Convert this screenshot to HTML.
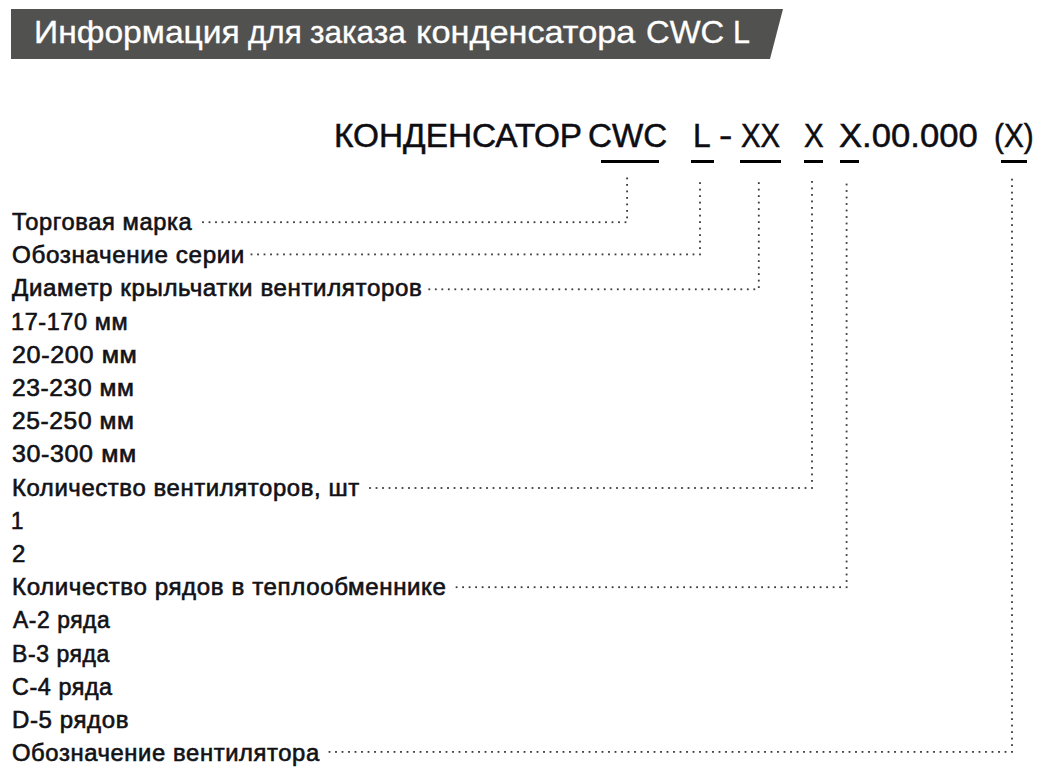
<!DOCTYPE html>
<html><head><meta charset="utf-8"><style>
html,body{margin:0;padding:0;background:#fff;width:1043px;height:776px;overflow:hidden;position:relative}
body{font-family:"Liberation Sans",sans-serif}
.banner{position:absolute;left:0;top:0;width:1043px;height:70px}
.title{position:absolute;top:15.16px;font-size:32.2px;line-height:1.117;color:#fff;white-space:nowrap;transform-origin:0 0;-webkit-text-stroke:0.35px #fff}
.lb{position:absolute;letter-spacing:0.6px;font-size:23.9px;line-height:1.117;color:#111116;white-space:nowrap;font-weight:400;-webkit-text-stroke:0.62px #111116;transform-origin:0 0}
.cd{position:absolute;font-size:33.0px;line-height:1.117;color:#0d0d12;white-space:nowrap;font-weight:400;-webkit-text-stroke:0.5px #0d0d12;transform-origin:0 0}
.ul{position:absolute;top:160px;height:3px;background:#000}
.dots{position:absolute;left:0;top:0}
</style></head><body>
<svg class="banner" viewBox="0 0 1043 70"><polygon points="11,9 783,9 770,59 11,59" fill="#515150"/></svg>
<div class="title" style="left:33.52px;transform:scaleX(1.0444)">Информация</div>
<div class="title" style="left:247.66px;transform:scaleX(0.9772)">для</div>
<div class="title" style="left:310.32px;transform:scaleX(0.9801)">заказа</div>
<div class="title" style="left:416.48px;transform:scaleX(1.0650)">конденсатора</div>
<div class="title" style="left:646.42px;transform:scaleX(1.0166)">CWC</div>
<div class="title" style="left:732.66px;transform:scaleX(0.9487)">L</div>
<div class="cd" style="left:333.62px;top:117.63px;transform:scaleX(1.0108)">КОНДЕНСАТОР</div>
<div class="cd" style="left:588.37px;top:117.63px;transform:scaleX(1.0042)">CWC</div>
<div class="cd" style="left:692.73px;top:117.63px;transform:scaleX(0.9630)">L</div>
<div class="cd" style="left:718.72px;top:117.63px;transform:scaleX(1.2139)">-</div>
<div class="cd" style="left:740.66px;top:117.63px;transform:scaleX(0.8887)">XX</div>
<div class="cd" style="left:803.86px;top:117.63px;transform:scaleX(0.8918)">X</div>
<div class="cd" style="left:838.98px;top:117.63px;transform:scaleX(1.0498)">X.00.000</div>
<div class="cd" style="left:994.18px;top:117.63px;transform:scaleX(0.9008)">(X)</div>
<div class="ul" style="left:600.7px;width:58.3px"></div>
<div class="ul" style="left:691px;width:23.0px"></div>
<div class="ul" style="left:740px;width:41.0px"></div>
<div class="ul" style="left:804px;width:19.0px"></div>
<div class="ul" style="left:840px;width:19.0px"></div>
<div class="ul" style="left:1001px;width:26.0px"></div>
<svg class="dots" width="1043" height="776" viewBox="0 0 1043 776"><g fill="#3a3a3a"><rect x="626.20" y="177.50" width="1.8" height="1.8"/><rect x="626.20" y="184.00" width="1.8" height="1.8"/><rect x="626.20" y="190.50" width="1.8" height="1.8"/><rect x="626.20" y="197.00" width="1.8" height="1.8"/><rect x="626.20" y="203.50" width="1.8" height="1.8"/><rect x="626.20" y="210.00" width="1.8" height="1.8"/><rect x="626.20" y="216.50" width="1.8" height="1.8"/><rect x="624.60" y="221.30" width="1.8" height="1.8"/><rect x="618.10" y="221.30" width="1.8" height="1.8"/><rect x="611.60" y="221.30" width="1.8" height="1.8"/><rect x="605.10" y="221.30" width="1.8" height="1.8"/><rect x="598.60" y="221.30" width="1.8" height="1.8"/><rect x="592.10" y="221.30" width="1.8" height="1.8"/><rect x="585.60" y="221.30" width="1.8" height="1.8"/><rect x="579.10" y="221.30" width="1.8" height="1.8"/><rect x="572.60" y="221.30" width="1.8" height="1.8"/><rect x="566.10" y="221.30" width="1.8" height="1.8"/><rect x="559.60" y="221.30" width="1.8" height="1.8"/><rect x="553.10" y="221.30" width="1.8" height="1.8"/><rect x="546.60" y="221.30" width="1.8" height="1.8"/><rect x="540.10" y="221.30" width="1.8" height="1.8"/><rect x="533.60" y="221.30" width="1.8" height="1.8"/><rect x="527.10" y="221.30" width="1.8" height="1.8"/><rect x="520.60" y="221.30" width="1.8" height="1.8"/><rect x="514.10" y="221.30" width="1.8" height="1.8"/><rect x="507.60" y="221.30" width="1.8" height="1.8"/><rect x="501.10" y="221.30" width="1.8" height="1.8"/><rect x="494.60" y="221.30" width="1.8" height="1.8"/><rect x="488.10" y="221.30" width="1.8" height="1.8"/><rect x="481.60" y="221.30" width="1.8" height="1.8"/><rect x="475.10" y="221.30" width="1.8" height="1.8"/><rect x="468.60" y="221.30" width="1.8" height="1.8"/><rect x="462.10" y="221.30" width="1.8" height="1.8"/><rect x="455.60" y="221.30" width="1.8" height="1.8"/><rect x="449.10" y="221.30" width="1.8" height="1.8"/><rect x="442.60" y="221.30" width="1.8" height="1.8"/><rect x="436.10" y="221.30" width="1.8" height="1.8"/><rect x="429.60" y="221.30" width="1.8" height="1.8"/><rect x="423.10" y="221.30" width="1.8" height="1.8"/><rect x="416.60" y="221.30" width="1.8" height="1.8"/><rect x="410.10" y="221.30" width="1.8" height="1.8"/><rect x="403.60" y="221.30" width="1.8" height="1.8"/><rect x="397.10" y="221.30" width="1.8" height="1.8"/><rect x="390.60" y="221.30" width="1.8" height="1.8"/><rect x="384.10" y="221.30" width="1.8" height="1.8"/><rect x="377.60" y="221.30" width="1.8" height="1.8"/><rect x="371.10" y="221.30" width="1.8" height="1.8"/><rect x="364.60" y="221.30" width="1.8" height="1.8"/><rect x="358.10" y="221.30" width="1.8" height="1.8"/><rect x="351.60" y="221.30" width="1.8" height="1.8"/><rect x="345.10" y="221.30" width="1.8" height="1.8"/><rect x="338.60" y="221.30" width="1.8" height="1.8"/><rect x="332.10" y="221.30" width="1.8" height="1.8"/><rect x="325.60" y="221.30" width="1.8" height="1.8"/><rect x="319.10" y="221.30" width="1.8" height="1.8"/><rect x="312.60" y="221.30" width="1.8" height="1.8"/><rect x="306.10" y="221.30" width="1.8" height="1.8"/><rect x="299.60" y="221.30" width="1.8" height="1.8"/><rect x="293.10" y="221.30" width="1.8" height="1.8"/><rect x="286.60" y="221.30" width="1.8" height="1.8"/><rect x="280.10" y="221.30" width="1.8" height="1.8"/><rect x="273.60" y="221.30" width="1.8" height="1.8"/><rect x="267.10" y="221.30" width="1.8" height="1.8"/><rect x="260.60" y="221.30" width="1.8" height="1.8"/><rect x="254.10" y="221.30" width="1.8" height="1.8"/><rect x="247.60" y="221.30" width="1.8" height="1.8"/><rect x="241.10" y="221.30" width="1.8" height="1.8"/><rect x="234.60" y="221.30" width="1.8" height="1.8"/><rect x="228.10" y="221.30" width="1.8" height="1.8"/><rect x="221.60" y="221.30" width="1.8" height="1.8"/><rect x="215.10" y="221.30" width="1.8" height="1.8"/><rect x="208.60" y="221.30" width="1.8" height="1.8"/><rect x="202.10" y="221.30" width="1.8" height="1.8"/><rect x="699.10" y="182.20" width="1.8" height="1.8"/><rect x="699.10" y="188.70" width="1.8" height="1.8"/><rect x="699.10" y="195.20" width="1.8" height="1.8"/><rect x="699.10" y="201.70" width="1.8" height="1.8"/><rect x="699.10" y="208.20" width="1.8" height="1.8"/><rect x="699.10" y="214.70" width="1.8" height="1.8"/><rect x="699.10" y="221.20" width="1.8" height="1.8"/><rect x="699.10" y="227.70" width="1.8" height="1.8"/><rect x="699.10" y="234.20" width="1.8" height="1.8"/><rect x="699.10" y="240.70" width="1.8" height="1.8"/><rect x="699.10" y="247.20" width="1.8" height="1.8"/><rect x="699.10" y="253.50" width="1.8" height="1.8"/><rect x="692.60" y="253.50" width="1.8" height="1.8"/><rect x="686.10" y="253.50" width="1.8" height="1.8"/><rect x="679.60" y="253.50" width="1.8" height="1.8"/><rect x="673.10" y="253.50" width="1.8" height="1.8"/><rect x="666.60" y="253.50" width="1.8" height="1.8"/><rect x="660.10" y="253.50" width="1.8" height="1.8"/><rect x="653.60" y="253.50" width="1.8" height="1.8"/><rect x="647.10" y="253.50" width="1.8" height="1.8"/><rect x="640.60" y="253.50" width="1.8" height="1.8"/><rect x="634.10" y="253.50" width="1.8" height="1.8"/><rect x="627.60" y="253.50" width="1.8" height="1.8"/><rect x="621.10" y="253.50" width="1.8" height="1.8"/><rect x="614.60" y="253.50" width="1.8" height="1.8"/><rect x="608.10" y="253.50" width="1.8" height="1.8"/><rect x="601.60" y="253.50" width="1.8" height="1.8"/><rect x="595.10" y="253.50" width="1.8" height="1.8"/><rect x="588.60" y="253.50" width="1.8" height="1.8"/><rect x="582.10" y="253.50" width="1.8" height="1.8"/><rect x="575.60" y="253.50" width="1.8" height="1.8"/><rect x="569.10" y="253.50" width="1.8" height="1.8"/><rect x="562.60" y="253.50" width="1.8" height="1.8"/><rect x="556.10" y="253.50" width="1.8" height="1.8"/><rect x="549.60" y="253.50" width="1.8" height="1.8"/><rect x="543.10" y="253.50" width="1.8" height="1.8"/><rect x="536.60" y="253.50" width="1.8" height="1.8"/><rect x="530.10" y="253.50" width="1.8" height="1.8"/><rect x="523.60" y="253.50" width="1.8" height="1.8"/><rect x="517.10" y="253.50" width="1.8" height="1.8"/><rect x="510.60" y="253.50" width="1.8" height="1.8"/><rect x="504.10" y="253.50" width="1.8" height="1.8"/><rect x="497.60" y="253.50" width="1.8" height="1.8"/><rect x="491.10" y="253.50" width="1.8" height="1.8"/><rect x="484.60" y="253.50" width="1.8" height="1.8"/><rect x="478.10" y="253.50" width="1.8" height="1.8"/><rect x="471.60" y="253.50" width="1.8" height="1.8"/><rect x="465.10" y="253.50" width="1.8" height="1.8"/><rect x="458.60" y="253.50" width="1.8" height="1.8"/><rect x="452.10" y="253.50" width="1.8" height="1.8"/><rect x="445.60" y="253.50" width="1.8" height="1.8"/><rect x="439.10" y="253.50" width="1.8" height="1.8"/><rect x="432.60" y="253.50" width="1.8" height="1.8"/><rect x="426.10" y="253.50" width="1.8" height="1.8"/><rect x="419.60" y="253.50" width="1.8" height="1.8"/><rect x="413.10" y="253.50" width="1.8" height="1.8"/><rect x="406.60" y="253.50" width="1.8" height="1.8"/><rect x="400.10" y="253.50" width="1.8" height="1.8"/><rect x="393.60" y="253.50" width="1.8" height="1.8"/><rect x="387.10" y="253.50" width="1.8" height="1.8"/><rect x="380.60" y="253.50" width="1.8" height="1.8"/><rect x="374.10" y="253.50" width="1.8" height="1.8"/><rect x="367.60" y="253.50" width="1.8" height="1.8"/><rect x="361.10" y="253.50" width="1.8" height="1.8"/><rect x="354.60" y="253.50" width="1.8" height="1.8"/><rect x="348.10" y="253.50" width="1.8" height="1.8"/><rect x="341.60" y="253.50" width="1.8" height="1.8"/><rect x="335.10" y="253.50" width="1.8" height="1.8"/><rect x="328.60" y="253.50" width="1.8" height="1.8"/><rect x="322.10" y="253.50" width="1.8" height="1.8"/><rect x="315.60" y="253.50" width="1.8" height="1.8"/><rect x="309.10" y="253.50" width="1.8" height="1.8"/><rect x="302.60" y="253.50" width="1.8" height="1.8"/><rect x="296.10" y="253.50" width="1.8" height="1.8"/><rect x="289.60" y="253.50" width="1.8" height="1.8"/><rect x="283.10" y="253.50" width="1.8" height="1.8"/><rect x="276.60" y="253.50" width="1.8" height="1.8"/><rect x="270.10" y="253.50" width="1.8" height="1.8"/><rect x="263.60" y="253.50" width="1.8" height="1.8"/><rect x="257.10" y="253.50" width="1.8" height="1.8"/><rect x="250.60" y="253.50" width="1.8" height="1.8"/><rect x="757.90" y="182.20" width="1.8" height="1.8"/><rect x="757.90" y="188.70" width="1.8" height="1.8"/><rect x="757.90" y="195.20" width="1.8" height="1.8"/><rect x="757.90" y="201.70" width="1.8" height="1.8"/><rect x="757.90" y="208.20" width="1.8" height="1.8"/><rect x="757.90" y="214.70" width="1.8" height="1.8"/><rect x="757.90" y="221.20" width="1.8" height="1.8"/><rect x="757.90" y="227.70" width="1.8" height="1.8"/><rect x="757.90" y="234.20" width="1.8" height="1.8"/><rect x="757.90" y="240.70" width="1.8" height="1.8"/><rect x="757.90" y="247.20" width="1.8" height="1.8"/><rect x="757.90" y="253.70" width="1.8" height="1.8"/><rect x="757.90" y="260.20" width="1.8" height="1.8"/><rect x="757.90" y="266.70" width="1.8" height="1.8"/><rect x="757.90" y="273.20" width="1.8" height="1.8"/><rect x="757.90" y="279.70" width="1.8" height="1.8"/><rect x="757.90" y="286.20" width="1.8" height="1.8"/><rect x="753.40" y="288.40" width="1.8" height="1.8"/><rect x="746.90" y="288.40" width="1.8" height="1.8"/><rect x="740.40" y="288.40" width="1.8" height="1.8"/><rect x="733.90" y="288.40" width="1.8" height="1.8"/><rect x="727.40" y="288.40" width="1.8" height="1.8"/><rect x="720.90" y="288.40" width="1.8" height="1.8"/><rect x="714.40" y="288.40" width="1.8" height="1.8"/><rect x="707.90" y="288.40" width="1.8" height="1.8"/><rect x="701.40" y="288.40" width="1.8" height="1.8"/><rect x="694.90" y="288.40" width="1.8" height="1.8"/><rect x="688.40" y="288.40" width="1.8" height="1.8"/><rect x="681.90" y="288.40" width="1.8" height="1.8"/><rect x="675.40" y="288.40" width="1.8" height="1.8"/><rect x="668.90" y="288.40" width="1.8" height="1.8"/><rect x="662.40" y="288.40" width="1.8" height="1.8"/><rect x="655.90" y="288.40" width="1.8" height="1.8"/><rect x="649.40" y="288.40" width="1.8" height="1.8"/><rect x="642.90" y="288.40" width="1.8" height="1.8"/><rect x="636.40" y="288.40" width="1.8" height="1.8"/><rect x="629.90" y="288.40" width="1.8" height="1.8"/><rect x="623.40" y="288.40" width="1.8" height="1.8"/><rect x="616.90" y="288.40" width="1.8" height="1.8"/><rect x="610.40" y="288.40" width="1.8" height="1.8"/><rect x="603.90" y="288.40" width="1.8" height="1.8"/><rect x="597.40" y="288.40" width="1.8" height="1.8"/><rect x="590.90" y="288.40" width="1.8" height="1.8"/><rect x="584.40" y="288.40" width="1.8" height="1.8"/><rect x="577.90" y="288.40" width="1.8" height="1.8"/><rect x="571.40" y="288.40" width="1.8" height="1.8"/><rect x="564.90" y="288.40" width="1.8" height="1.8"/><rect x="558.40" y="288.40" width="1.8" height="1.8"/><rect x="551.90" y="288.40" width="1.8" height="1.8"/><rect x="545.40" y="288.40" width="1.8" height="1.8"/><rect x="538.90" y="288.40" width="1.8" height="1.8"/><rect x="532.40" y="288.40" width="1.8" height="1.8"/><rect x="525.90" y="288.40" width="1.8" height="1.8"/><rect x="519.40" y="288.40" width="1.8" height="1.8"/><rect x="512.90" y="288.40" width="1.8" height="1.8"/><rect x="506.40" y="288.40" width="1.8" height="1.8"/><rect x="499.90" y="288.40" width="1.8" height="1.8"/><rect x="493.40" y="288.40" width="1.8" height="1.8"/><rect x="486.90" y="288.40" width="1.8" height="1.8"/><rect x="480.40" y="288.40" width="1.8" height="1.8"/><rect x="473.90" y="288.40" width="1.8" height="1.8"/><rect x="467.40" y="288.40" width="1.8" height="1.8"/><rect x="460.90" y="288.40" width="1.8" height="1.8"/><rect x="454.40" y="288.40" width="1.8" height="1.8"/><rect x="447.90" y="288.40" width="1.8" height="1.8"/><rect x="441.40" y="288.40" width="1.8" height="1.8"/><rect x="434.90" y="288.40" width="1.8" height="1.8"/><rect x="428.40" y="288.40" width="1.8" height="1.8"/><rect x="811.10" y="181.00" width="1.8" height="1.8"/><rect x="811.10" y="187.50" width="1.8" height="1.8"/><rect x="811.10" y="194.00" width="1.8" height="1.8"/><rect x="811.10" y="200.50" width="1.8" height="1.8"/><rect x="811.10" y="207.00" width="1.8" height="1.8"/><rect x="811.10" y="213.50" width="1.8" height="1.8"/><rect x="811.10" y="220.00" width="1.8" height="1.8"/><rect x="811.10" y="226.50" width="1.8" height="1.8"/><rect x="811.10" y="233.00" width="1.8" height="1.8"/><rect x="811.10" y="239.50" width="1.8" height="1.8"/><rect x="811.10" y="246.00" width="1.8" height="1.8"/><rect x="811.10" y="252.50" width="1.8" height="1.8"/><rect x="811.10" y="259.00" width="1.8" height="1.8"/><rect x="811.10" y="265.50" width="1.8" height="1.8"/><rect x="811.10" y="272.00" width="1.8" height="1.8"/><rect x="811.10" y="278.50" width="1.8" height="1.8"/><rect x="811.10" y="285.00" width="1.8" height="1.8"/><rect x="811.10" y="291.50" width="1.8" height="1.8"/><rect x="811.10" y="298.00" width="1.8" height="1.8"/><rect x="811.10" y="304.50" width="1.8" height="1.8"/><rect x="811.10" y="311.00" width="1.8" height="1.8"/><rect x="811.10" y="317.50" width="1.8" height="1.8"/><rect x="811.10" y="324.00" width="1.8" height="1.8"/><rect x="811.10" y="330.50" width="1.8" height="1.8"/><rect x="811.10" y="337.00" width="1.8" height="1.8"/><rect x="811.10" y="343.50" width="1.8" height="1.8"/><rect x="811.10" y="350.00" width="1.8" height="1.8"/><rect x="811.10" y="356.50" width="1.8" height="1.8"/><rect x="811.10" y="363.00" width="1.8" height="1.8"/><rect x="811.10" y="369.50" width="1.8" height="1.8"/><rect x="811.10" y="376.00" width="1.8" height="1.8"/><rect x="811.10" y="382.50" width="1.8" height="1.8"/><rect x="811.10" y="389.00" width="1.8" height="1.8"/><rect x="811.10" y="395.50" width="1.8" height="1.8"/><rect x="811.10" y="402.00" width="1.8" height="1.8"/><rect x="811.10" y="408.50" width="1.8" height="1.8"/><rect x="811.10" y="415.00" width="1.8" height="1.8"/><rect x="811.10" y="421.50" width="1.8" height="1.8"/><rect x="811.10" y="428.00" width="1.8" height="1.8"/><rect x="811.10" y="434.50" width="1.8" height="1.8"/><rect x="811.10" y="441.00" width="1.8" height="1.8"/><rect x="811.10" y="447.50" width="1.8" height="1.8"/><rect x="811.10" y="454.00" width="1.8" height="1.8"/><rect x="811.10" y="460.50" width="1.8" height="1.8"/><rect x="811.10" y="467.00" width="1.8" height="1.8"/><rect x="811.10" y="473.50" width="1.8" height="1.8"/><rect x="811.10" y="480.00" width="1.8" height="1.8"/><rect x="811.10" y="487.10" width="1.8" height="1.8"/><rect x="804.60" y="487.10" width="1.8" height="1.8"/><rect x="798.10" y="487.10" width="1.8" height="1.8"/><rect x="791.60" y="487.10" width="1.8" height="1.8"/><rect x="785.10" y="487.10" width="1.8" height="1.8"/><rect x="778.60" y="487.10" width="1.8" height="1.8"/><rect x="772.10" y="487.10" width="1.8" height="1.8"/><rect x="765.60" y="487.10" width="1.8" height="1.8"/><rect x="759.10" y="487.10" width="1.8" height="1.8"/><rect x="752.60" y="487.10" width="1.8" height="1.8"/><rect x="746.10" y="487.10" width="1.8" height="1.8"/><rect x="739.60" y="487.10" width="1.8" height="1.8"/><rect x="733.10" y="487.10" width="1.8" height="1.8"/><rect x="726.60" y="487.10" width="1.8" height="1.8"/><rect x="720.10" y="487.10" width="1.8" height="1.8"/><rect x="713.60" y="487.10" width="1.8" height="1.8"/><rect x="707.10" y="487.10" width="1.8" height="1.8"/><rect x="700.60" y="487.10" width="1.8" height="1.8"/><rect x="694.10" y="487.10" width="1.8" height="1.8"/><rect x="687.60" y="487.10" width="1.8" height="1.8"/><rect x="681.10" y="487.10" width="1.8" height="1.8"/><rect x="674.60" y="487.10" width="1.8" height="1.8"/><rect x="668.10" y="487.10" width="1.8" height="1.8"/><rect x="661.60" y="487.10" width="1.8" height="1.8"/><rect x="655.10" y="487.10" width="1.8" height="1.8"/><rect x="648.60" y="487.10" width="1.8" height="1.8"/><rect x="642.10" y="487.10" width="1.8" height="1.8"/><rect x="635.60" y="487.10" width="1.8" height="1.8"/><rect x="629.10" y="487.10" width="1.8" height="1.8"/><rect x="622.60" y="487.10" width="1.8" height="1.8"/><rect x="616.10" y="487.10" width="1.8" height="1.8"/><rect x="609.60" y="487.10" width="1.8" height="1.8"/><rect x="603.10" y="487.10" width="1.8" height="1.8"/><rect x="596.60" y="487.10" width="1.8" height="1.8"/><rect x="590.10" y="487.10" width="1.8" height="1.8"/><rect x="583.60" y="487.10" width="1.8" height="1.8"/><rect x="577.10" y="487.10" width="1.8" height="1.8"/><rect x="570.60" y="487.10" width="1.8" height="1.8"/><rect x="564.10" y="487.10" width="1.8" height="1.8"/><rect x="557.60" y="487.10" width="1.8" height="1.8"/><rect x="551.10" y="487.10" width="1.8" height="1.8"/><rect x="544.60" y="487.10" width="1.8" height="1.8"/><rect x="538.10" y="487.10" width="1.8" height="1.8"/><rect x="531.60" y="487.10" width="1.8" height="1.8"/><rect x="525.10" y="487.10" width="1.8" height="1.8"/><rect x="518.60" y="487.10" width="1.8" height="1.8"/><rect x="512.10" y="487.10" width="1.8" height="1.8"/><rect x="505.60" y="487.10" width="1.8" height="1.8"/><rect x="499.10" y="487.10" width="1.8" height="1.8"/><rect x="492.60" y="487.10" width="1.8" height="1.8"/><rect x="486.10" y="487.10" width="1.8" height="1.8"/><rect x="479.60" y="487.10" width="1.8" height="1.8"/><rect x="473.10" y="487.10" width="1.8" height="1.8"/><rect x="466.60" y="487.10" width="1.8" height="1.8"/><rect x="460.10" y="487.10" width="1.8" height="1.8"/><rect x="453.60" y="487.10" width="1.8" height="1.8"/><rect x="447.10" y="487.10" width="1.8" height="1.8"/><rect x="440.60" y="487.10" width="1.8" height="1.8"/><rect x="434.10" y="487.10" width="1.8" height="1.8"/><rect x="427.60" y="487.10" width="1.8" height="1.8"/><rect x="421.10" y="487.10" width="1.8" height="1.8"/><rect x="414.60" y="487.10" width="1.8" height="1.8"/><rect x="408.10" y="487.10" width="1.8" height="1.8"/><rect x="401.60" y="487.10" width="1.8" height="1.8"/><rect x="395.10" y="487.10" width="1.8" height="1.8"/><rect x="388.60" y="487.10" width="1.8" height="1.8"/><rect x="382.10" y="487.10" width="1.8" height="1.8"/><rect x="375.60" y="487.10" width="1.8" height="1.8"/><rect x="369.10" y="487.10" width="1.8" height="1.8"/><rect x="845.70" y="183.60" width="1.8" height="1.8"/><rect x="845.70" y="190.10" width="1.8" height="1.8"/><rect x="845.70" y="196.60" width="1.8" height="1.8"/><rect x="845.70" y="203.10" width="1.8" height="1.8"/><rect x="845.70" y="209.60" width="1.8" height="1.8"/><rect x="845.70" y="216.10" width="1.8" height="1.8"/><rect x="845.70" y="222.60" width="1.8" height="1.8"/><rect x="845.70" y="229.10" width="1.8" height="1.8"/><rect x="845.70" y="235.60" width="1.8" height="1.8"/><rect x="845.70" y="242.10" width="1.8" height="1.8"/><rect x="845.70" y="248.60" width="1.8" height="1.8"/><rect x="845.70" y="255.10" width="1.8" height="1.8"/><rect x="845.70" y="261.60" width="1.8" height="1.8"/><rect x="845.70" y="268.10" width="1.8" height="1.8"/><rect x="845.70" y="274.60" width="1.8" height="1.8"/><rect x="845.70" y="281.10" width="1.8" height="1.8"/><rect x="845.70" y="287.60" width="1.8" height="1.8"/><rect x="845.70" y="294.10" width="1.8" height="1.8"/><rect x="845.70" y="300.60" width="1.8" height="1.8"/><rect x="845.70" y="307.10" width="1.8" height="1.8"/><rect x="845.70" y="313.60" width="1.8" height="1.8"/><rect x="845.70" y="320.10" width="1.8" height="1.8"/><rect x="845.70" y="326.60" width="1.8" height="1.8"/><rect x="845.70" y="333.10" width="1.8" height="1.8"/><rect x="845.70" y="339.60" width="1.8" height="1.8"/><rect x="845.70" y="346.10" width="1.8" height="1.8"/><rect x="845.70" y="352.60" width="1.8" height="1.8"/><rect x="845.70" y="359.10" width="1.8" height="1.8"/><rect x="845.70" y="365.60" width="1.8" height="1.8"/><rect x="845.70" y="372.10" width="1.8" height="1.8"/><rect x="845.70" y="378.60" width="1.8" height="1.8"/><rect x="845.70" y="385.10" width="1.8" height="1.8"/><rect x="845.70" y="391.60" width="1.8" height="1.8"/><rect x="845.70" y="398.10" width="1.8" height="1.8"/><rect x="845.70" y="404.60" width="1.8" height="1.8"/><rect x="845.70" y="411.10" width="1.8" height="1.8"/><rect x="845.70" y="417.60" width="1.8" height="1.8"/><rect x="845.70" y="424.10" width="1.8" height="1.8"/><rect x="845.70" y="430.60" width="1.8" height="1.8"/><rect x="845.70" y="437.10" width="1.8" height="1.8"/><rect x="845.70" y="443.60" width="1.8" height="1.8"/><rect x="845.70" y="450.10" width="1.8" height="1.8"/><rect x="845.70" y="456.60" width="1.8" height="1.8"/><rect x="845.70" y="463.10" width="1.8" height="1.8"/><rect x="845.70" y="469.60" width="1.8" height="1.8"/><rect x="845.70" y="476.10" width="1.8" height="1.8"/><rect x="845.70" y="482.60" width="1.8" height="1.8"/><rect x="845.70" y="489.10" width="1.8" height="1.8"/><rect x="845.70" y="495.60" width="1.8" height="1.8"/><rect x="845.70" y="502.10" width="1.8" height="1.8"/><rect x="845.70" y="508.60" width="1.8" height="1.8"/><rect x="845.70" y="515.10" width="1.8" height="1.8"/><rect x="845.70" y="521.60" width="1.8" height="1.8"/><rect x="845.70" y="528.10" width="1.8" height="1.8"/><rect x="845.70" y="534.60" width="1.8" height="1.8"/><rect x="845.70" y="541.10" width="1.8" height="1.8"/><rect x="845.70" y="547.60" width="1.8" height="1.8"/><rect x="845.70" y="554.10" width="1.8" height="1.8"/><rect x="845.70" y="560.60" width="1.8" height="1.8"/><rect x="845.70" y="567.10" width="1.8" height="1.8"/><rect x="845.70" y="573.60" width="1.8" height="1.8"/><rect x="845.70" y="580.10" width="1.8" height="1.8"/><rect x="845.70" y="586.30" width="1.8" height="1.8"/><rect x="839.20" y="586.30" width="1.8" height="1.8"/><rect x="832.70" y="586.30" width="1.8" height="1.8"/><rect x="826.20" y="586.30" width="1.8" height="1.8"/><rect x="819.70" y="586.30" width="1.8" height="1.8"/><rect x="813.20" y="586.30" width="1.8" height="1.8"/><rect x="806.70" y="586.30" width="1.8" height="1.8"/><rect x="800.20" y="586.30" width="1.8" height="1.8"/><rect x="793.70" y="586.30" width="1.8" height="1.8"/><rect x="787.20" y="586.30" width="1.8" height="1.8"/><rect x="780.70" y="586.30" width="1.8" height="1.8"/><rect x="774.20" y="586.30" width="1.8" height="1.8"/><rect x="767.70" y="586.30" width="1.8" height="1.8"/><rect x="761.20" y="586.30" width="1.8" height="1.8"/><rect x="754.70" y="586.30" width="1.8" height="1.8"/><rect x="748.20" y="586.30" width="1.8" height="1.8"/><rect x="741.70" y="586.30" width="1.8" height="1.8"/><rect x="735.20" y="586.30" width="1.8" height="1.8"/><rect x="728.70" y="586.30" width="1.8" height="1.8"/><rect x="722.20" y="586.30" width="1.8" height="1.8"/><rect x="715.70" y="586.30" width="1.8" height="1.8"/><rect x="709.20" y="586.30" width="1.8" height="1.8"/><rect x="702.70" y="586.30" width="1.8" height="1.8"/><rect x="696.20" y="586.30" width="1.8" height="1.8"/><rect x="689.70" y="586.30" width="1.8" height="1.8"/><rect x="683.20" y="586.30" width="1.8" height="1.8"/><rect x="676.70" y="586.30" width="1.8" height="1.8"/><rect x="670.20" y="586.30" width="1.8" height="1.8"/><rect x="663.70" y="586.30" width="1.8" height="1.8"/><rect x="657.20" y="586.30" width="1.8" height="1.8"/><rect x="650.70" y="586.30" width="1.8" height="1.8"/><rect x="644.20" y="586.30" width="1.8" height="1.8"/><rect x="637.70" y="586.30" width="1.8" height="1.8"/><rect x="631.20" y="586.30" width="1.8" height="1.8"/><rect x="624.70" y="586.30" width="1.8" height="1.8"/><rect x="618.20" y="586.30" width="1.8" height="1.8"/><rect x="611.70" y="586.30" width="1.8" height="1.8"/><rect x="605.20" y="586.30" width="1.8" height="1.8"/><rect x="598.70" y="586.30" width="1.8" height="1.8"/><rect x="592.20" y="586.30" width="1.8" height="1.8"/><rect x="585.70" y="586.30" width="1.8" height="1.8"/><rect x="579.20" y="586.30" width="1.8" height="1.8"/><rect x="572.70" y="586.30" width="1.8" height="1.8"/><rect x="566.20" y="586.30" width="1.8" height="1.8"/><rect x="559.70" y="586.30" width="1.8" height="1.8"/><rect x="553.20" y="586.30" width="1.8" height="1.8"/><rect x="546.70" y="586.30" width="1.8" height="1.8"/><rect x="540.20" y="586.30" width="1.8" height="1.8"/><rect x="533.70" y="586.30" width="1.8" height="1.8"/><rect x="527.20" y="586.30" width="1.8" height="1.8"/><rect x="520.70" y="586.30" width="1.8" height="1.8"/><rect x="514.20" y="586.30" width="1.8" height="1.8"/><rect x="507.70" y="586.30" width="1.8" height="1.8"/><rect x="501.20" y="586.30" width="1.8" height="1.8"/><rect x="494.70" y="586.30" width="1.8" height="1.8"/><rect x="488.20" y="586.30" width="1.8" height="1.8"/><rect x="481.70" y="586.30" width="1.8" height="1.8"/><rect x="475.20" y="586.30" width="1.8" height="1.8"/><rect x="468.70" y="586.30" width="1.8" height="1.8"/><rect x="462.20" y="586.30" width="1.8" height="1.8"/><rect x="455.70" y="586.30" width="1.8" height="1.8"/><rect x="1011.10" y="178.70" width="1.8" height="1.8"/><rect x="1011.10" y="185.20" width="1.8" height="1.8"/><rect x="1011.10" y="191.70" width="1.8" height="1.8"/><rect x="1011.10" y="198.20" width="1.8" height="1.8"/><rect x="1011.10" y="204.70" width="1.8" height="1.8"/><rect x="1011.10" y="211.20" width="1.8" height="1.8"/><rect x="1011.10" y="217.70" width="1.8" height="1.8"/><rect x="1011.10" y="224.20" width="1.8" height="1.8"/><rect x="1011.10" y="230.70" width="1.8" height="1.8"/><rect x="1011.10" y="237.20" width="1.8" height="1.8"/><rect x="1011.10" y="243.70" width="1.8" height="1.8"/><rect x="1011.10" y="250.20" width="1.8" height="1.8"/><rect x="1011.10" y="256.70" width="1.8" height="1.8"/><rect x="1011.10" y="263.20" width="1.8" height="1.8"/><rect x="1011.10" y="269.70" width="1.8" height="1.8"/><rect x="1011.10" y="276.20" width="1.8" height="1.8"/><rect x="1011.10" y="282.70" width="1.8" height="1.8"/><rect x="1011.10" y="289.20" width="1.8" height="1.8"/><rect x="1011.10" y="295.70" width="1.8" height="1.8"/><rect x="1011.10" y="302.20" width="1.8" height="1.8"/><rect x="1011.10" y="308.70" width="1.8" height="1.8"/><rect x="1011.10" y="315.20" width="1.8" height="1.8"/><rect x="1011.10" y="321.70" width="1.8" height="1.8"/><rect x="1011.10" y="328.20" width="1.8" height="1.8"/><rect x="1011.10" y="334.70" width="1.8" height="1.8"/><rect x="1011.10" y="341.20" width="1.8" height="1.8"/><rect x="1011.10" y="347.70" width="1.8" height="1.8"/><rect x="1011.10" y="354.20" width="1.8" height="1.8"/><rect x="1011.10" y="360.70" width="1.8" height="1.8"/><rect x="1011.10" y="367.20" width="1.8" height="1.8"/><rect x="1011.10" y="373.70" width="1.8" height="1.8"/><rect x="1011.10" y="380.20" width="1.8" height="1.8"/><rect x="1011.10" y="386.70" width="1.8" height="1.8"/><rect x="1011.10" y="393.20" width="1.8" height="1.8"/><rect x="1011.10" y="399.70" width="1.8" height="1.8"/><rect x="1011.10" y="406.20" width="1.8" height="1.8"/><rect x="1011.10" y="412.70" width="1.8" height="1.8"/><rect x="1011.10" y="419.20" width="1.8" height="1.8"/><rect x="1011.10" y="425.70" width="1.8" height="1.8"/><rect x="1011.10" y="432.20" width="1.8" height="1.8"/><rect x="1011.10" y="438.70" width="1.8" height="1.8"/><rect x="1011.10" y="445.20" width="1.8" height="1.8"/><rect x="1011.10" y="451.70" width="1.8" height="1.8"/><rect x="1011.10" y="458.20" width="1.8" height="1.8"/><rect x="1011.10" y="464.70" width="1.8" height="1.8"/><rect x="1011.10" y="471.20" width="1.8" height="1.8"/><rect x="1011.10" y="477.70" width="1.8" height="1.8"/><rect x="1011.10" y="484.20" width="1.8" height="1.8"/><rect x="1011.10" y="490.70" width="1.8" height="1.8"/><rect x="1011.10" y="497.20" width="1.8" height="1.8"/><rect x="1011.10" y="503.70" width="1.8" height="1.8"/><rect x="1011.10" y="510.20" width="1.8" height="1.8"/><rect x="1011.10" y="516.70" width="1.8" height="1.8"/><rect x="1011.10" y="523.20" width="1.8" height="1.8"/><rect x="1011.10" y="529.70" width="1.8" height="1.8"/><rect x="1011.10" y="536.20" width="1.8" height="1.8"/><rect x="1011.10" y="542.70" width="1.8" height="1.8"/><rect x="1011.10" y="549.20" width="1.8" height="1.8"/><rect x="1011.10" y="555.70" width="1.8" height="1.8"/><rect x="1011.10" y="562.20" width="1.8" height="1.8"/><rect x="1011.10" y="568.70" width="1.8" height="1.8"/><rect x="1011.10" y="575.20" width="1.8" height="1.8"/><rect x="1011.10" y="581.70" width="1.8" height="1.8"/><rect x="1011.10" y="588.20" width="1.8" height="1.8"/><rect x="1011.10" y="594.70" width="1.8" height="1.8"/><rect x="1011.10" y="601.20" width="1.8" height="1.8"/><rect x="1011.10" y="607.70" width="1.8" height="1.8"/><rect x="1011.10" y="614.20" width="1.8" height="1.8"/><rect x="1011.10" y="620.70" width="1.8" height="1.8"/><rect x="1011.10" y="627.20" width="1.8" height="1.8"/><rect x="1011.10" y="633.70" width="1.8" height="1.8"/><rect x="1011.10" y="640.20" width="1.8" height="1.8"/><rect x="1011.10" y="646.70" width="1.8" height="1.8"/><rect x="1011.10" y="653.20" width="1.8" height="1.8"/><rect x="1011.10" y="659.70" width="1.8" height="1.8"/><rect x="1011.10" y="666.20" width="1.8" height="1.8"/><rect x="1011.10" y="672.70" width="1.8" height="1.8"/><rect x="1011.10" y="679.20" width="1.8" height="1.8"/><rect x="1011.10" y="685.70" width="1.8" height="1.8"/><rect x="1011.10" y="692.20" width="1.8" height="1.8"/><rect x="1011.10" y="698.70" width="1.8" height="1.8"/><rect x="1011.10" y="705.20" width="1.8" height="1.8"/><rect x="1011.10" y="711.70" width="1.8" height="1.8"/><rect x="1011.10" y="718.20" width="1.8" height="1.8"/><rect x="1011.10" y="724.70" width="1.8" height="1.8"/><rect x="1011.10" y="731.20" width="1.8" height="1.8"/><rect x="1011.10" y="737.70" width="1.8" height="1.8"/><rect x="1011.10" y="744.20" width="1.8" height="1.8"/><rect x="1011.10" y="751.00" width="1.8" height="1.8"/><rect x="1004.60" y="751.00" width="1.8" height="1.8"/><rect x="998.10" y="751.00" width="1.8" height="1.8"/><rect x="991.60" y="751.00" width="1.8" height="1.8"/><rect x="985.10" y="751.00" width="1.8" height="1.8"/><rect x="978.60" y="751.00" width="1.8" height="1.8"/><rect x="972.10" y="751.00" width="1.8" height="1.8"/><rect x="965.60" y="751.00" width="1.8" height="1.8"/><rect x="959.10" y="751.00" width="1.8" height="1.8"/><rect x="952.60" y="751.00" width="1.8" height="1.8"/><rect x="946.10" y="751.00" width="1.8" height="1.8"/><rect x="939.60" y="751.00" width="1.8" height="1.8"/><rect x="933.10" y="751.00" width="1.8" height="1.8"/><rect x="926.60" y="751.00" width="1.8" height="1.8"/><rect x="920.10" y="751.00" width="1.8" height="1.8"/><rect x="913.60" y="751.00" width="1.8" height="1.8"/><rect x="907.10" y="751.00" width="1.8" height="1.8"/><rect x="900.60" y="751.00" width="1.8" height="1.8"/><rect x="894.10" y="751.00" width="1.8" height="1.8"/><rect x="887.60" y="751.00" width="1.8" height="1.8"/><rect x="881.10" y="751.00" width="1.8" height="1.8"/><rect x="874.60" y="751.00" width="1.8" height="1.8"/><rect x="868.10" y="751.00" width="1.8" height="1.8"/><rect x="861.60" y="751.00" width="1.8" height="1.8"/><rect x="855.10" y="751.00" width="1.8" height="1.8"/><rect x="848.60" y="751.00" width="1.8" height="1.8"/><rect x="842.10" y="751.00" width="1.8" height="1.8"/><rect x="835.60" y="751.00" width="1.8" height="1.8"/><rect x="829.10" y="751.00" width="1.8" height="1.8"/><rect x="822.60" y="751.00" width="1.8" height="1.8"/><rect x="816.10" y="751.00" width="1.8" height="1.8"/><rect x="809.60" y="751.00" width="1.8" height="1.8"/><rect x="803.10" y="751.00" width="1.8" height="1.8"/><rect x="796.60" y="751.00" width="1.8" height="1.8"/><rect x="790.10" y="751.00" width="1.8" height="1.8"/><rect x="783.60" y="751.00" width="1.8" height="1.8"/><rect x="777.10" y="751.00" width="1.8" height="1.8"/><rect x="770.60" y="751.00" width="1.8" height="1.8"/><rect x="764.10" y="751.00" width="1.8" height="1.8"/><rect x="757.60" y="751.00" width="1.8" height="1.8"/><rect x="751.10" y="751.00" width="1.8" height="1.8"/><rect x="744.60" y="751.00" width="1.8" height="1.8"/><rect x="738.10" y="751.00" width="1.8" height="1.8"/><rect x="731.60" y="751.00" width="1.8" height="1.8"/><rect x="725.10" y="751.00" width="1.8" height="1.8"/><rect x="718.60" y="751.00" width="1.8" height="1.8"/><rect x="712.10" y="751.00" width="1.8" height="1.8"/><rect x="705.60" y="751.00" width="1.8" height="1.8"/><rect x="699.10" y="751.00" width="1.8" height="1.8"/><rect x="692.60" y="751.00" width="1.8" height="1.8"/><rect x="686.10" y="751.00" width="1.8" height="1.8"/><rect x="679.60" y="751.00" width="1.8" height="1.8"/><rect x="673.10" y="751.00" width="1.8" height="1.8"/><rect x="666.60" y="751.00" width="1.8" height="1.8"/><rect x="660.10" y="751.00" width="1.8" height="1.8"/><rect x="653.60" y="751.00" width="1.8" height="1.8"/><rect x="647.10" y="751.00" width="1.8" height="1.8"/><rect x="640.60" y="751.00" width="1.8" height="1.8"/><rect x="634.10" y="751.00" width="1.8" height="1.8"/><rect x="627.60" y="751.00" width="1.8" height="1.8"/><rect x="621.10" y="751.00" width="1.8" height="1.8"/><rect x="614.60" y="751.00" width="1.8" height="1.8"/><rect x="608.10" y="751.00" width="1.8" height="1.8"/><rect x="601.60" y="751.00" width="1.8" height="1.8"/><rect x="595.10" y="751.00" width="1.8" height="1.8"/><rect x="588.60" y="751.00" width="1.8" height="1.8"/><rect x="582.10" y="751.00" width="1.8" height="1.8"/><rect x="575.60" y="751.00" width="1.8" height="1.8"/><rect x="569.10" y="751.00" width="1.8" height="1.8"/><rect x="562.60" y="751.00" width="1.8" height="1.8"/><rect x="556.10" y="751.00" width="1.8" height="1.8"/><rect x="549.60" y="751.00" width="1.8" height="1.8"/><rect x="543.10" y="751.00" width="1.8" height="1.8"/><rect x="536.60" y="751.00" width="1.8" height="1.8"/><rect x="530.10" y="751.00" width="1.8" height="1.8"/><rect x="523.60" y="751.00" width="1.8" height="1.8"/><rect x="517.10" y="751.00" width="1.8" height="1.8"/><rect x="510.60" y="751.00" width="1.8" height="1.8"/><rect x="504.10" y="751.00" width="1.8" height="1.8"/><rect x="497.60" y="751.00" width="1.8" height="1.8"/><rect x="491.10" y="751.00" width="1.8" height="1.8"/><rect x="484.60" y="751.00" width="1.8" height="1.8"/><rect x="478.10" y="751.00" width="1.8" height="1.8"/><rect x="471.60" y="751.00" width="1.8" height="1.8"/><rect x="465.10" y="751.00" width="1.8" height="1.8"/><rect x="458.60" y="751.00" width="1.8" height="1.8"/><rect x="452.10" y="751.00" width="1.8" height="1.8"/><rect x="445.60" y="751.00" width="1.8" height="1.8"/><rect x="439.10" y="751.00" width="1.8" height="1.8"/><rect x="432.60" y="751.00" width="1.8" height="1.8"/><rect x="426.10" y="751.00" width="1.8" height="1.8"/><rect x="419.60" y="751.00" width="1.8" height="1.8"/><rect x="413.10" y="751.00" width="1.8" height="1.8"/><rect x="406.60" y="751.00" width="1.8" height="1.8"/><rect x="400.10" y="751.00" width="1.8" height="1.8"/><rect x="393.60" y="751.00" width="1.8" height="1.8"/><rect x="387.10" y="751.00" width="1.8" height="1.8"/><rect x="380.60" y="751.00" width="1.8" height="1.8"/><rect x="374.10" y="751.00" width="1.8" height="1.8"/><rect x="367.60" y="751.00" width="1.8" height="1.8"/><rect x="361.10" y="751.00" width="1.8" height="1.8"/><rect x="354.60" y="751.00" width="1.8" height="1.8"/><rect x="348.10" y="751.00" width="1.8" height="1.8"/><rect x="341.60" y="751.00" width="1.8" height="1.8"/><rect x="335.10" y="751.00" width="1.8" height="1.8"/><rect x="328.60" y="751.00" width="1.8" height="1.8"/></g></svg>
<div class="lb" style="left:11.78px;top:209.07px;transform:scaleX(0.9916)">Торговая марка</div>
<div class="lb" style="left:11.57px;top:242.27px;transform:scaleX(1.0139)">Обозначение серии</div>
<div class="lb" style="left:11.74px;top:275.47px;transform:scaleX(1.0087)">Диаметр крыльчатки вентиляторов</div>
<div class="lb" style="left:11.32px;top:308.67px;transform:scaleX(0.9824)">17-170 мм</div>
<div class="lb" style="left:11.86px;top:341.87px;transform:scaleX(1.0519)">20-200 мм</div>
<div class="lb" style="left:11.88px;top:375.07px;transform:scaleX(1.0279)">23-230 мм</div>
<div class="lb" style="left:11.88px;top:408.27px;transform:scaleX(1.0279)">25-250 мм</div>
<div class="lb" style="left:11.97px;top:441.47px;transform:scaleX(1.0459)">30-300 мм</div>
<div class="lb" style="left:12.05px;top:474.67px;transform:scaleX(0.9998)">Количество вентиляторов, шт</div>
<div class="lb" style="left:11.39px;top:507.87px;transform:scaleX(0.9338)">1</div>
<div class="lb" style="left:12.10px;top:541.07px;transform:scaleX(1.0081)">2</div>
<div class="lb" style="left:12.04px;top:574.27px;transform:scaleX(1.0085)">Количество рядов в теплообменнике</div>
<div class="lb" style="left:12.65px;top:607.47px;transform:scaleX(0.9549)">A-2 ряда</div>
<div class="lb" style="left:11.91px;top:640.67px;transform:scaleX(0.9622)">B-3 ряда</div>
<div class="lb" style="left:12.32px;top:673.87px;transform:scaleX(0.9761)">C-4 ряда</div>
<div class="lb" style="left:11.94px;top:707.07px;transform:scaleX(1.0058)">D-5 рядов</div>
<div class="lb" style="left:11.58px;top:740.27px;transform:scaleX(0.9968)">Обозначение вентилятора</div>
</body></html>
